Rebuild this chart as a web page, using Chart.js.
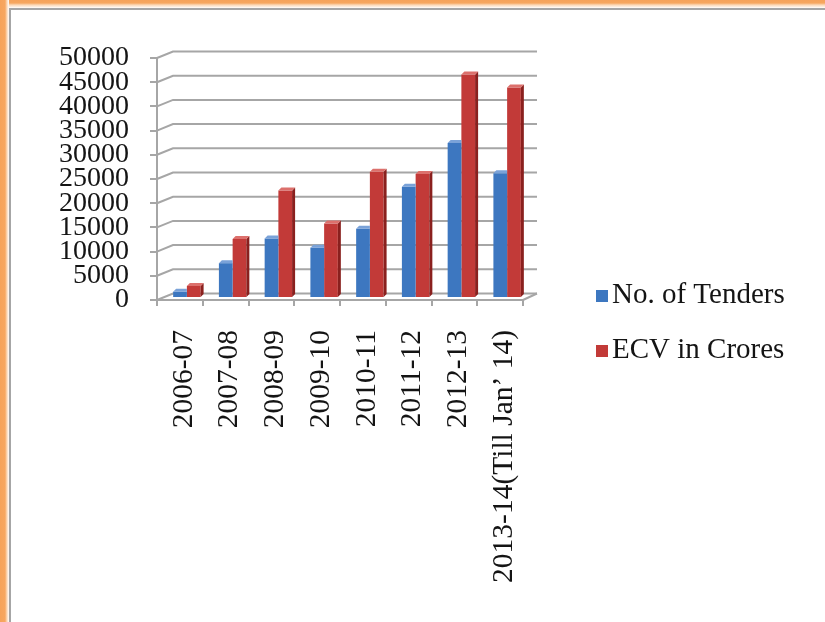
<!DOCTYPE html>
<html>
<head>
<meta charset="utf-8">
<title>Tenders and ECV</title>
<script src="https://cdn.jsdelivr.net/npm/chart.js@4.4.1/dist/chart.umd.min.js"></script>
<style>
  html, body { margin: 0; padding: 0; background: #fff; }
  #wrap { position: relative; width: 825px; height: 622px; overflow: hidden; background: #fff; }
  .edgeTop { position: absolute; left: 0; top: 0; width: 825px; height: 8px;
    background: linear-gradient(#f6a35a 0, #f7a760 3px, #fcd9b8 5px, #fff1e4 7px, #fff 8px); }
  .edgeLeft { position: absolute; left: 0; top: 0; width: 9px; height: 622px;
    background: linear-gradient(90deg, #f6a35a 0, #f7a760 5px, #fcd9b8 7px, #fff 9px); }
  .lineTop { position: absolute; left: 9px; top: 8px; width: 816px; height: 2px; background: #a6a6a6; }
  .lineLeft { position: absolute; left: 9px; top: 8px; width: 2px; height: 614px; background: #a6a6a6; }
  canvas { position: absolute; left: 0; top: 0; }
</style>
</head>
<body>
<div id="wrap">
  <div class="edgeTop"></div>
  <div class="edgeLeft"></div>
  <div class="lineTop"></div>
  <div class="lineLeft"></div>
  <canvas id="chart" width="825" height="622"></canvas>
</div>
<script>
// Financial years
const categories = ['2006-07', '2007-08', '2008-09', '2009-10', '2010-11', '2011-12', '2012-13', '2013-14(Till Jan\u2019 14)'];
// Number of tenders per year
const tenders = [1300, 7200, 12300, 10400, 14300, 23000, 32000, 25800];
// Estimated contract value (Rs. crores) per year
const ecvCrores = [2500, 12200, 22200, 15400, 26100, 25600, 46200, 43500];
// Value axis
const yMin = 0;
const yMax = 50000;
const yStep = 5000;
const seriesNames = ['No. of Tenders', 'ECV in Crores'];

// Colours: front faces, side faces and top caps of the columns
const frontColors = ['#3d77c0', '#c23a38'];
const sideColors = ['#2a558d', '#8a201e'];
const capColors = ['#7aa2d8', '#dc706c'];
const GRID = '#a6a6a6';
const TEXT = '#141414';
const FONT = '"Liberation Serif", "Times New Roman", serif';

// Perspective offsets for the wall, floor and column depth
const WALL_DX = 16, WALL_DY = 6.5;
const BAR_DX = 7, BAR_DY = -2;
const FACE = 3;
const LEGEND_X = 596, LEGEND_Y = 290, LEGEND_STEP = 55;
const X_AXIS_HEIGHT = 283;

const perspective = {
  id: 'perspective',
  beforeDatasetsDraw(chart) {
    const { ctx, chartArea: a, scales: { y } } = chart;
    ctx.save();
    ctx.strokeStyle = GRID;
    ctx.lineWidth = 2;
    // back wall gridlines with the short side-wall diagonals
    y.ticks.forEach(t => {
      const py = y.getPixelForValue(t.value);
      ctx.beginPath();
      ctx.moveTo(a.left, py);
      ctx.lineTo(a.left + WALL_DX, py - WALL_DY);
      ctx.lineTo(a.right + WALL_DX - 2, py - WALL_DY);
      ctx.stroke();
    });
    // right edge of the floor
    ctx.beginPath();
    ctx.moveTo(a.right, a.bottom);
    ctx.lineTo(a.right + WALL_DX - 2, a.bottom - WALL_DY);
    ctx.stroke();
    ctx.restore();
    // columns stand a little inside the floor
    ctx.save();
    ctx.translate(BAR_DX, BAR_DY);
  },
  afterDatasetDraw(chart, args) {
    const ctx = chart.ctx;
    const i = args.index;
    args.meta.data.forEach(bar => {
      const { x, y, base, width } = bar.getProps(['x', 'y', 'base', 'width'], true);
      const L = x - width / 2, R = x + width / 2;
      if (i === 1) {
        ctx.fillStyle = sideColors[i];
        ctx.beginPath();
        ctx.moveTo(R, y);
        ctx.lineTo(R + FACE, y - FACE);
        ctx.lineTo(R + FACE, base - FACE);
        ctx.lineTo(R, base);
        ctx.closePath();
        ctx.fill();
      }
      ctx.fillStyle = capColors[i];
      ctx.beginPath();
      ctx.moveTo(L, y);
      ctx.lineTo(L + FACE, y - FACE);
      if (i === 1) {
        ctx.lineTo(R + FACE, y - FACE);
      } else {
        ctx.lineTo(R, y - FACE);
      }
      ctx.lineTo(R, y);
      ctx.closePath();
      ctx.fill();
    });
  },
  afterDatasetsDraw(chart) {
    chart.ctx.restore();
  },
  afterDraw(chart) {
    const ctx = chart.ctx;
    ctx.save();
    ctx.font = '29px ' + FONT;
    ctx.textBaseline = 'alphabetic';
    ctx.textAlign = 'left';
    chart.data.datasets.forEach((ds, k) => {
      const by = LEGEND_Y + k * LEGEND_STEP;
      ctx.fillStyle = ds.backgroundColor;
      ctx.fillRect(LEGEND_X, by, 12, 12);
      ctx.fillStyle = TEXT;
      ctx.fillText(ds.label, LEGEND_X + 16, by + 13);
    });
    ctx.restore();
  }
};

new Chart(document.getElementById('chart'), {
  type: 'bar',
  data: {
    labels: categories,
    datasets: [
      { label: seriesNames[0], data: tenders, backgroundColor: frontColors[0], borderWidth: 0, clip: false },
      { label: seriesNames[1], data: ecvCrores, backgroundColor: frontColors[1], borderWidth: 0, clip: false }
    ]
  },
  options: {
    responsive: false,
    animation: false,
    devicePixelRatio: 1,
    layout: { padding: { left: 38, top: 58, right: 302, bottom: 39 } },
    datasets: { bar: { categoryPercentage: 0.6, barPercentage: 1.0 } },
    plugins: {
      legend: { display: false },
      tooltip: { enabled: false }
    },
    scales: {
      x: {
        afterFit(scale) { scale.height = X_AXIS_HEIGHT; },
        grid: { drawOnChartArea: false, tickLength: 6, color: GRID, lineWidth: 2 },
        border: { color: GRID, width: 2 },
        ticks: {
          minRotation: 90, maxRotation: 90, autoSkip: false, padding: 24, labelOffset: 4,
          color: TEXT, font: { family: FONT, size: 29.5 }
        }
      },
      y: {
        min: yMin, max: yMax,
        grid: { drawOnChartArea: false, tickLength: 7, color: GRID, lineWidth: 2 },
        border: { color: GRID, width: 2 },
        ticks: {
          stepSize: yStep, padding: 21, autoSkip: false,
          callback: v => String(v),
          color: TEXT, font: { family: FONT, size: 28, lineHeight: 0.8 }
        }
      }
    }
  },
  plugins: [perspective]
});
</script>
</body>
</html>
